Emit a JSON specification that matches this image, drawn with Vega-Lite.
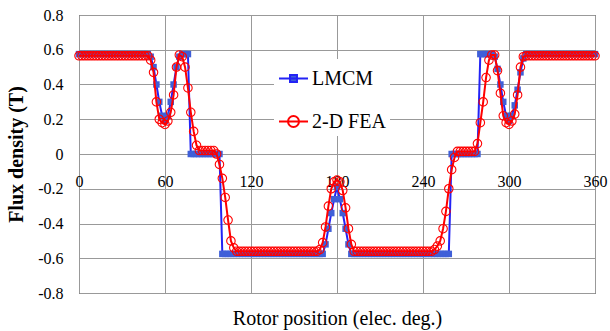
{
"$schema": "https://vega.github.io/schema/vega-lite/v6.json",
"width": 516, "height": 278,
"autosize": "none",
"padding": {"left": 79, "top": 15, "right": 15, "bottom": 38},
"background": "white",
"config": {
  "font": "Liberation Serif",
  "view": {"stroke": "#222", "strokeWidth": 1},
  "axis": {"grid": true, "gridColor": "#999", "gridWidth": 1, "domain": false, "ticks": false, "labelFont": "Liberation Serif", "labelFontSize": 16, "labelColor": "#000", "titleFont": "Liberation Serif", "titleColor": "#000", "labelFlush": false},
  "legend": {"labelFont": "Liberation Serif"}
},
"data": {"values": [
{"x":0,"s":"LMCM","y":0.575},{"x":2,"s":"LMCM","y":0.575},{"x":4,"s":"LMCM","y":0.575},{"x":6,"s":"LMCM","y":0.575},{"x":8,"s":"LMCM","y":0.575},{"x":10,"s":"LMCM","y":0.575},{"x":12,"s":"LMCM","y":0.575},{"x":14,"s":"LMCM","y":0.575},{"x":16,"s":"LMCM","y":0.575},{"x":18,"s":"LMCM","y":0.575},{"x":20,"s":"LMCM","y":0.575},{"x":22,"s":"LMCM","y":0.575},{"x":24,"s":"LMCM","y":0.575},{"x":26,"s":"LMCM","y":0.575},{"x":28,"s":"LMCM","y":0.575},{"x":30,"s":"LMCM","y":0.575},{"x":32,"s":"LMCM","y":0.575},{"x":34,"s":"LMCM","y":0.575},{"x":36,"s":"LMCM","y":0.575},{"x":38,"s":"LMCM","y":0.575},{"x":40,"s":"LMCM","y":0.575},{"x":42,"s":"LMCM","y":0.575},{"x":44,"s":"LMCM","y":0.575},{"x":46,"s":"LMCM","y":0.575},{"x":48,"s":"LMCM","y":0.575},
{"x":50,"s":"LMCM","y":0.56},{"x":52,"s":"LMCM","y":0.5},{"x":54,"s":"LMCM","y":0.4},{"x":56,"s":"LMCM","y":0.3},{"x":58,"s":"LMCM","y":0.22},{"x":60,"s":"LMCM","y":0.19},{"x":62,"s":"LMCM","y":0.22},{"x":64,"s":"LMCM","y":0.3},{"x":66,"s":"LMCM","y":0.4},{"x":68,"s":"LMCM","y":0.5},{"x":70,"s":"LMCM","y":0.56},{"x":72,"s":"LMCM","y":0.575},{"x":74,"s":"LMCM","y":0.575},{"x":76,"s":"LMCM","y":0.575},
{"x":78,"s":"LMCM","y":0},{"x":80,"s":"LMCM","y":0},{"x":82,"s":"LMCM","y":0},{"x":84,"s":"LMCM","y":0},{"x":86,"s":"LMCM","y":0},{"x":88,"s":"LMCM","y":0},{"x":90,"s":"LMCM","y":0},{"x":92,"s":"LMCM","y":0},{"x":94,"s":"LMCM","y":0},{"x":96,"s":"LMCM","y":0},{"x":98,"s":"LMCM","y":0},
{"x":100,"s":"LMCM","y":-0.575},{"x":102,"s":"LMCM","y":-0.575},{"x":104,"s":"LMCM","y":-0.575},{"x":106,"s":"LMCM","y":-0.575},{"x":108,"s":"LMCM","y":-0.575},{"x":110,"s":"LMCM","y":-0.575},{"x":112,"s":"LMCM","y":-0.575},{"x":114,"s":"LMCM","y":-0.575},{"x":116,"s":"LMCM","y":-0.575},{"x":118,"s":"LMCM","y":-0.575},{"x":120,"s":"LMCM","y":-0.575},{"x":122,"s":"LMCM","y":-0.575},{"x":124,"s":"LMCM","y":-0.575},{"x":126,"s":"LMCM","y":-0.575},{"x":128,"s":"LMCM","y":-0.575},{"x":130,"s":"LMCM","y":-0.575},{"x":132,"s":"LMCM","y":-0.575},{"x":134,"s":"LMCM","y":-0.575},{"x":136,"s":"LMCM","y":-0.575},{"x":138,"s":"LMCM","y":-0.575},{"x":140,"s":"LMCM","y":-0.575},{"x":142,"s":"LMCM","y":-0.575},{"x":144,"s":"LMCM","y":-0.575},{"x":146,"s":"LMCM","y":-0.575},{"x":148,"s":"LMCM","y":-0.575},{"x":150,"s":"LMCM","y":-0.575},{"x":152,"s":"LMCM","y":-0.575},{"x":154,"s":"LMCM","y":-0.575},{"x":156,"s":"LMCM","y":-0.575},{"x":158,"s":"LMCM","y":-0.575},{"x":160,"s":"LMCM","y":-0.575},{"x":162,"s":"LMCM","y":-0.575},{"x":164,"s":"LMCM","y":-0.575},{"x":166,"s":"LMCM","y":-0.575},{"x":168,"s":"LMCM","y":-0.575},{"x":170,"s":"LMCM","y":-0.575},
{"x":172,"s":"LMCM","y":-0.52},{"x":174,"s":"LMCM","y":-0.43},{"x":176,"s":"LMCM","y":-0.34},{"x":178,"s":"LMCM","y":-0.26},{"x":180,"s":"LMCM","y":-0.19},{"x":182,"s":"LMCM","y":-0.26},{"x":184,"s":"LMCM","y":-0.34},{"x":186,"s":"LMCM","y":-0.43},{"x":188,"s":"LMCM","y":-0.52},
{"x":190,"s":"LMCM","y":-0.575},{"x":192,"s":"LMCM","y":-0.575},{"x":194,"s":"LMCM","y":-0.575},{"x":196,"s":"LMCM","y":-0.575},{"x":198,"s":"LMCM","y":-0.575},{"x":200,"s":"LMCM","y":-0.575},{"x":202,"s":"LMCM","y":-0.575},{"x":204,"s":"LMCM","y":-0.575},{"x":206,"s":"LMCM","y":-0.575},{"x":208,"s":"LMCM","y":-0.575},{"x":210,"s":"LMCM","y":-0.575},{"x":212,"s":"LMCM","y":-0.575},{"x":214,"s":"LMCM","y":-0.575},{"x":216,"s":"LMCM","y":-0.575},{"x":218,"s":"LMCM","y":-0.575},{"x":220,"s":"LMCM","y":-0.575},{"x":222,"s":"LMCM","y":-0.575},{"x":224,"s":"LMCM","y":-0.575},{"x":226,"s":"LMCM","y":-0.575},{"x":228,"s":"LMCM","y":-0.575},{"x":230,"s":"LMCM","y":-0.575},{"x":232,"s":"LMCM","y":-0.575},{"x":234,"s":"LMCM","y":-0.575},{"x":236,"s":"LMCM","y":-0.575},{"x":238,"s":"LMCM","y":-0.575},{"x":240,"s":"LMCM","y":-0.575},{"x":242,"s":"LMCM","y":-0.575},{"x":244,"s":"LMCM","y":-0.575},{"x":246,"s":"LMCM","y":-0.575},{"x":248,"s":"LMCM","y":-0.575},{"x":250,"s":"LMCM","y":-0.575},{"x":252,"s":"LMCM","y":-0.575},{"x":254,"s":"LMCM","y":-0.575},{"x":256,"s":"LMCM","y":-0.575},{"x":258,"s":"LMCM","y":-0.575},
{"x":260,"s":"LMCM","y":0},{"x":262,"s":"LMCM","y":0},{"x":264,"s":"LMCM","y":0},{"x":266,"s":"LMCM","y":0},{"x":268,"s":"LMCM","y":0},{"x":270,"s":"LMCM","y":0},{"x":272,"s":"LMCM","y":0},{"x":274,"s":"LMCM","y":0},{"x":276,"s":"LMCM","y":0},{"x":278,"s":"LMCM","y":0},
{"x":280,"s":"LMCM","y":0.575},{"x":282,"s":"LMCM","y":0.575},{"x":284,"s":"LMCM","y":0.575},{"x":286,"s":"LMCM","y":0.575},{"x":288,"s":"LMCM","y":0.575},
{"x":290,"s":"LMCM","y":0.56},{"x":292,"s":"LMCM","y":0.49},{"x":294,"s":"LMCM","y":0.4},{"x":296,"s":"LMCM","y":0.3},{"x":298,"s":"LMCM","y":0.22},{"x":300,"s":"LMCM","y":0.19},{"x":302,"s":"LMCM","y":0.22},{"x":304,"s":"LMCM","y":0.28},{"x":306,"s":"LMCM","y":0.37},{"x":308,"s":"LMCM","y":0.47},{"x":310,"s":"LMCM","y":0.55},
{"x":312,"s":"LMCM","y":0.575},{"x":314,"s":"LMCM","y":0.575},{"x":316,"s":"LMCM","y":0.575},{"x":318,"s":"LMCM","y":0.575},{"x":320,"s":"LMCM","y":0.575},{"x":322,"s":"LMCM","y":0.575},{"x":324,"s":"LMCM","y":0.575},{"x":326,"s":"LMCM","y":0.575},{"x":328,"s":"LMCM","y":0.575},{"x":330,"s":"LMCM","y":0.575},{"x":332,"s":"LMCM","y":0.575},{"x":334,"s":"LMCM","y":0.575},{"x":336,"s":"LMCM","y":0.575},{"x":338,"s":"LMCM","y":0.575},{"x":340,"s":"LMCM","y":0.575},{"x":342,"s":"LMCM","y":0.575},{"x":344,"s":"LMCM","y":0.575},{"x":346,"s":"LMCM","y":0.575},{"x":348,"s":"LMCM","y":0.575},{"x":350,"s":"LMCM","y":0.575},{"x":352,"s":"LMCM","y":0.575},{"x":354,"s":"LMCM","y":0.575},{"x":356,"s":"LMCM","y":0.575},{"x":358,"s":"LMCM","y":0.575},{"x":360,"s":"LMCM","y":0.575},
{"x":0,"s":"2-D FEA","y":0.565},{"x":2,"s":"2-D FEA","y":0.565},{"x":4,"s":"2-D FEA","y":0.565},{"x":6,"s":"2-D FEA","y":0.565},{"x":8,"s":"2-D FEA","y":0.565},{"x":10,"s":"2-D FEA","y":0.565},{"x":12,"s":"2-D FEA","y":0.565},{"x":14,"s":"2-D FEA","y":0.565},{"x":16,"s":"2-D FEA","y":0.565},{"x":18,"s":"2-D FEA","y":0.565},{"x":20,"s":"2-D FEA","y":0.565},{"x":22,"s":"2-D FEA","y":0.565},{"x":24,"s":"2-D FEA","y":0.565},{"x":26,"s":"2-D FEA","y":0.565},{"x":28,"s":"2-D FEA","y":0.565},{"x":30,"s":"2-D FEA","y":0.565},{"x":32,"s":"2-D FEA","y":0.565},{"x":34,"s":"2-D FEA","y":0.565},{"x":36,"s":"2-D FEA","y":0.565},{"x":38,"s":"2-D FEA","y":0.565},{"x":40,"s":"2-D FEA","y":0.565},{"x":42,"s":"2-D FEA","y":0.565},{"x":44,"s":"2-D FEA","y":0.565},{"x":46,"s":"2-D FEA","y":0.565},{"x":48,"s":"2-D FEA","y":0.565},
{"x":50,"s":"2-D FEA","y":0.54},{"x":52,"s":"2-D FEA","y":0.47},{"x":54,"s":"2-D FEA","y":0.3},{"x":56,"s":"2-D FEA","y":0.2},{"x":58,"s":"2-D FEA","y":0.18},{"x":60,"s":"2-D FEA","y":0.17},{"x":62,"s":"2-D FEA","y":0.19},{"x":64,"s":"2-D FEA","y":0.24},{"x":66,"s":"2-D FEA","y":0.34},{"x":68,"s":"2-D FEA","y":0.5},{"x":70,"s":"2-D FEA","y":0.57},{"x":72,"s":"2-D FEA","y":0.56},{"x":74,"s":"2-D FEA","y":0.5},{"x":76,"s":"2-D FEA","y":0.38},{"x":78,"s":"2-D FEA","y":0.24},{"x":80,"s":"2-D FEA","y":0.13},{"x":82,"s":"2-D FEA","y":0.05},
{"x":84,"s":"2-D FEA","y":0.02},{"x":86,"s":"2-D FEA","y":0.02},{"x":88,"s":"2-D FEA","y":0.02},{"x":90,"s":"2-D FEA","y":0.02},{"x":92,"s":"2-D FEA","y":0.02},{"x":94,"s":"2-D FEA","y":0.02},
{"x":96,"s":"2-D FEA","y":0},{"x":98,"s":"2-D FEA","y":-0.06},{"x":100,"s":"2-D FEA","y":-0.14},{"x":102,"s":"2-D FEA","y":-0.25},{"x":104,"s":"2-D FEA","y":-0.38},{"x":106,"s":"2-D FEA","y":-0.5},{"x":108,"s":"2-D FEA","y":-0.54},
{"x":110,"s":"2-D FEA","y":-0.56},{"x":112,"s":"2-D FEA","y":-0.56},{"x":114,"s":"2-D FEA","y":-0.56},{"x":116,"s":"2-D FEA","y":-0.56},{"x":118,"s":"2-D FEA","y":-0.56},{"x":120,"s":"2-D FEA","y":-0.56},{"x":122,"s":"2-D FEA","y":-0.56},{"x":124,"s":"2-D FEA","y":-0.56},{"x":126,"s":"2-D FEA","y":-0.56},{"x":128,"s":"2-D FEA","y":-0.56},{"x":130,"s":"2-D FEA","y":-0.56},{"x":132,"s":"2-D FEA","y":-0.56},{"x":134,"s":"2-D FEA","y":-0.56},{"x":136,"s":"2-D FEA","y":-0.56},{"x":138,"s":"2-D FEA","y":-0.56},{"x":140,"s":"2-D FEA","y":-0.56},{"x":142,"s":"2-D FEA","y":-0.56},{"x":144,"s":"2-D FEA","y":-0.56},{"x":146,"s":"2-D FEA","y":-0.56},{"x":148,"s":"2-D FEA","y":-0.56},{"x":150,"s":"2-D FEA","y":-0.56},{"x":152,"s":"2-D FEA","y":-0.56},{"x":154,"s":"2-D FEA","y":-0.56},{"x":156,"s":"2-D FEA","y":-0.56},{"x":158,"s":"2-D FEA","y":-0.56},{"x":160,"s":"2-D FEA","y":-0.56},{"x":162,"s":"2-D FEA","y":-0.56},{"x":164,"s":"2-D FEA","y":-0.56},{"x":166,"s":"2-D FEA","y":-0.56},
{"x":168,"s":"2-D FEA","y":-0.55},{"x":170,"s":"2-D FEA","y":-0.51},{"x":172,"s":"2-D FEA","y":-0.42},{"x":174,"s":"2-D FEA","y":-0.3},{"x":176,"s":"2-D FEA","y":-0.2},{"x":178,"s":"2-D FEA","y":-0.16},{"x":180,"s":"2-D FEA","y":-0.15},{"x":182,"s":"2-D FEA","y":-0.16},{"x":184,"s":"2-D FEA","y":-0.21},{"x":186,"s":"2-D FEA","y":-0.31},{"x":188,"s":"2-D FEA","y":-0.43},{"x":190,"s":"2-D FEA","y":-0.52},
{"x":192,"s":"2-D FEA","y":-0.56},{"x":194,"s":"2-D FEA","y":-0.56},{"x":196,"s":"2-D FEA","y":-0.56},{"x":198,"s":"2-D FEA","y":-0.56},{"x":200,"s":"2-D FEA","y":-0.56},{"x":202,"s":"2-D FEA","y":-0.56},{"x":204,"s":"2-D FEA","y":-0.56},{"x":206,"s":"2-D FEA","y":-0.56},{"x":208,"s":"2-D FEA","y":-0.56},{"x":210,"s":"2-D FEA","y":-0.56},{"x":212,"s":"2-D FEA","y":-0.56},{"x":214,"s":"2-D FEA","y":-0.56},{"x":216,"s":"2-D FEA","y":-0.56},{"x":218,"s":"2-D FEA","y":-0.56},{"x":220,"s":"2-D FEA","y":-0.56},{"x":222,"s":"2-D FEA","y":-0.56},{"x":224,"s":"2-D FEA","y":-0.56},{"x":226,"s":"2-D FEA","y":-0.56},{"x":228,"s":"2-D FEA","y":-0.56},{"x":230,"s":"2-D FEA","y":-0.56},{"x":232,"s":"2-D FEA","y":-0.56},{"x":234,"s":"2-D FEA","y":-0.56},{"x":236,"s":"2-D FEA","y":-0.56},{"x":238,"s":"2-D FEA","y":-0.56},{"x":240,"s":"2-D FEA","y":-0.56},{"x":242,"s":"2-D FEA","y":-0.56},{"x":244,"s":"2-D FEA","y":-0.56},{"x":246,"s":"2-D FEA","y":-0.56},
{"x":248,"s":"2-D FEA","y":-0.55},{"x":250,"s":"2-D FEA","y":-0.53},{"x":252,"s":"2-D FEA","y":-0.5},{"x":254,"s":"2-D FEA","y":-0.43},{"x":256,"s":"2-D FEA","y":-0.33},{"x":258,"s":"2-D FEA","y":-0.2},{"x":260,"s":"2-D FEA","y":-0.09},{"x":262,"s":"2-D FEA","y":-0.02},
{"x":264,"s":"2-D FEA","y":0.015},{"x":266,"s":"2-D FEA","y":0.015},{"x":268,"s":"2-D FEA","y":0.015},{"x":270,"s":"2-D FEA","y":0.015},{"x":272,"s":"2-D FEA","y":0.015},{"x":274,"s":"2-D FEA","y":0.015},{"x":276,"s":"2-D FEA","y":0.015},
{"x":278,"s":"2-D FEA","y":0.06},{"x":280,"s":"2-D FEA","y":0.18},{"x":282,"s":"2-D FEA","y":0.3},{"x":284,"s":"2-D FEA","y":0.44},{"x":286,"s":"2-D FEA","y":0.54},{"x":288,"s":"2-D FEA","y":0.57},{"x":290,"s":"2-D FEA","y":0.57},{"x":292,"s":"2-D FEA","y":0.48},{"x":294,"s":"2-D FEA","y":0.35},{"x":296,"s":"2-D FEA","y":0.22},{"x":298,"s":"2-D FEA","y":0.18},{"x":300,"s":"2-D FEA","y":0.17},{"x":302,"s":"2-D FEA","y":0.19},{"x":304,"s":"2-D FEA","y":0.23},{"x":306,"s":"2-D FEA","y":0.34},{"x":308,"s":"2-D FEA","y":0.5},{"x":310,"s":"2-D FEA","y":0.56},
{"x":312,"s":"2-D FEA","y":0.565},{"x":314,"s":"2-D FEA","y":0.565},{"x":316,"s":"2-D FEA","y":0.565},{"x":318,"s":"2-D FEA","y":0.565},{"x":320,"s":"2-D FEA","y":0.565},{"x":322,"s":"2-D FEA","y":0.565},{"x":324,"s":"2-D FEA","y":0.565},{"x":326,"s":"2-D FEA","y":0.565},{"x":328,"s":"2-D FEA","y":0.565},{"x":330,"s":"2-D FEA","y":0.565},{"x":332,"s":"2-D FEA","y":0.565},{"x":334,"s":"2-D FEA","y":0.565},{"x":336,"s":"2-D FEA","y":0.565},{"x":338,"s":"2-D FEA","y":0.565},{"x":340,"s":"2-D FEA","y":0.565},{"x":342,"s":"2-D FEA","y":0.565},{"x":344,"s":"2-D FEA","y":0.565},{"x":346,"s":"2-D FEA","y":0.565},{"x":348,"s":"2-D FEA","y":0.565},{"x":350,"s":"2-D FEA","y":0.565},{"x":352,"s":"2-D FEA","y":0.565},{"x":354,"s":"2-D FEA","y":0.565},{"x":356,"s":"2-D FEA","y":0.565},{"x":358,"s":"2-D FEA","y":0.565},{"x":360,"s":"2-D FEA","y":0.565}
]},
"encoding": {
  "x": {"field": "x", "type": "quantitative", "scale": {"domain": [0, 360], "nice": false},
    "axis": {"values": [0, 60, 120, 180, 240, 300, 360], "offset": -139, "labelPadding": 19, "title": "Rotor position (elec. deg.)", "titleFontSize": 20, "titleFontWeight": "normal", "titleY": 164, "titleBaseline": "middle"}},
  "y": {"field": "y", "type": "quantitative", "scale": {"domain": [-0.8, 0.8], "nice": false},
    "axis": {"values": [-0.8, -0.6, -0.4, -0.2, 0, 0.2, 0.4, 0.6, 0.8], "labelPadding": 16, "labelExpr": "datum.value == 0 ? '0' : (datum.value < 0 ? '-' : '') + format(abs(datum.value), '.1f')", "title": "Flux density (T)", "titleFontSize": 20, "titleFontWeight": "bold", "titlePadding": 11}}
},
"layer": [
  {"transform": [{"filter": "datum.s === 'LMCM'"}],
   "mark": {"type": "line", "strokeWidth": 2},
   "encoding": {"color": {"field": "s", "type": "nominal", "scale": {"domain": ["LMCM", "2-D FEA"], "range": ["#2323f5", "#ff0000"]},
     "legend": {"title": null, "orient": "none", "legendX": 195, "legendY": 44, "fillColor": "white", "padding": 4, "symbolSize": 841, "symbolStrokeWidth": 2, "labelFont": "Liberation Serif", "labelFontSize": 20, "labelColor": "#000", "labelOffset": 3, "rowPadding": 17,
       "encode": {"symbols": {"update": {
         "shape": {"signal": "datum.value === 'LMCM' ? 'M-1,0H1M-0.24,-0.24H0.24V0.24H-0.24Z' : 'M-1,0H1M0.38,0A0.38,0.38,0,1,1,-0.38,0A0.38,0.38,0,1,1,0.38,0'"},
         "fill": {"signal": "datum.value === 'LMCM' ? '#3f5fd8' : 'transparent'"},
         "stroke": {"signal": "datum.value === 'LMCM' ? '#2323f5' : '#ff0000'"},
         "strokeWidth": {"value": 2},
         "opacity": {"value": 1}}}}}}}},
  {"transform": [{"filter": "datum.s === 'LMCM'"}],
   "mark": {"type": "point", "shape": "square", "filled": true, "size": 42, "color": "#3f5fd8", "opacity": 1}},
  {"transform": [{"filter": "datum.s === '2-D FEA'"}],
   "mark": {"type": "line", "strokeWidth": 2},
   "encoding": {"color": {"field": "s", "type": "nominal"}}},
  {"transform": [{"filter": "datum.s === '2-D FEA'"}],
   "mark": {"type": "point", "shape": "circle", "filled": false, "size": 72, "color": "#ff0000", "strokeWidth": 1.1, "opacity": 1}}
]
}
